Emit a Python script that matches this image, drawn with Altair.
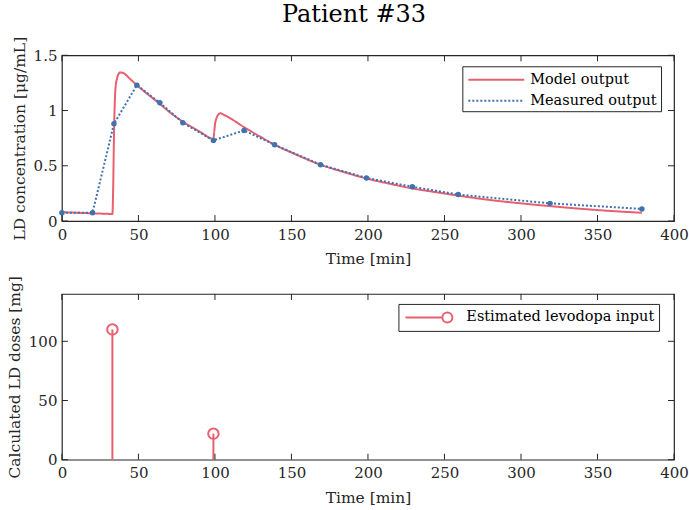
import altair as alt
import pandas as pd

# ---------------- data ----------------
model_t = [0, 10, 20, 30, 33, 33.5, 34, 34.5, 35, 36, 37, 38, 40, 45, 49, 55, 64, 70, 79, 90, 99,
           99.5, 100, 101, 102, 103.5, 106, 110, 119, 130, 139, 150, 169, 185, 199, 215, 229, 245,
           259, 280, 300, 319, 340, 360, 379]
model_v = [0.08, 0.075, 0.07, 0.065, 0.063, 0.3, 0.75, 1.05, 1.2, 1.29, 1.33, 1.345, 1.34, 1.28,
           1.23, 1.16, 1.06, 0.99, 0.90, 0.81, 0.745,
           0.80, 0.87, 0.93, 0.96, 0.975, 0.96, 0.93, 0.85, 0.76, 0.69, 0.62, 0.51, 0.44, 0.385,
           0.335, 0.295, 0.26, 0.23, 0.19, 0.16, 0.135, 0.11, 0.09, 0.075]
meas_t = [0, 20, 34, 49, 64, 79, 99, 119, 139, 169, 199, 229, 259, 319, 379]
meas_v = [0.075, 0.075, 0.88, 1.23, 1.07, 0.89, 0.73, 0.82, 0.69, 0.51, 0.39, 0.31, 0.24, 0.16, 0.11]
dose_t = [33, 99]
dose_v = [110, 22]
series_names = ["Model output", "Measured output"]
dose_name = "Estimated levodopa input"
x_ticks = [0, 50, 100, 150, 200, 250, 300, 350, 400]
y1_ticks = [0, 0.5, 1, 1.5]
y2_ticks = [0, 50, 100]

# ---------------- style ----------------
RED = "#E8606F"
BLUE = "#3F72AF"
AX = "#262626"
FONT = "DejaVu Serif"
W, H = 613, 166
TL = 6

model_df = pd.DataFrame({"t": model_t, "v": model_v, "s": series_names[0]})
meas_df = pd.DataFrame({"t": meas_t, "v": meas_v, "s": series_names[1]})
dose_df = pd.DataFrame({"t": dose_t, "v": dose_v, "s": dose_name})
xt_df = pd.DataFrame({"k": x_ticks})
y1t_df = pd.DataFrame({"k": y1_ticks})
y2t_df = pd.DataFrame({"k": y2_ticks})

xscale = alt.Scale(domain=[0, 400], nice=False, zero=False)
y1scale = alt.Scale(domain=[0, 1.5], nice=False)
y2scale = alt.Scale(domain=[0, 140], nice=False)

xaxis = alt.Axis(values=x_ticks, title="Time [min]", ticks=False, domain=False, grid=False,
                 labelPadding=6, titlePadding=10, format="~r", labelFlush=False)


def yaxis(title, vals):
    return alt.Axis(values=vals, title=title, ticks=False, domain=False, grid=False,
                    labelPadding=5, titlePadding=6, format="~r", labelFlush=False)


def inner_ticks(yscale, ytdf, ytitle, yvals):
    xa = xaxis
    ya = yaxis(ytitle, yvals)
    xb = alt.Chart(xt_df).mark_rule(color=AX, strokeWidth=1).encode(
        x=alt.X("k:Q", scale=xscale, axis=xa), y=alt.value(H), y2=alt.value(H - TL))
    xt = alt.Chart(xt_df).mark_rule(color=AX, strokeWidth=1).encode(
        x=alt.X("k:Q", scale=xscale, axis=xa), y=alt.value(0), y2=alt.value(TL))
    yl = alt.Chart(ytdf).mark_rule(color=AX, strokeWidth=1).encode(
        y=alt.Y("k:Q", scale=yscale, axis=ya), x=alt.value(0), x2=alt.value(TL))
    yr = alt.Chart(ytdf).mark_rule(color=AX, strokeWidth=1).encode(
        y=alt.Y("k:Q", scale=yscale, axis=ya), x=alt.value(W), x2=alt.value(W - TL))
    return [xb, xt, yl, yr]


Y1T = "LD concentration [μg/mL]"
Y2T = "Calculated LD doses [mg]"

# top legend symbol (custom path, scaled by sqrt(size)/2 = 8.5)
p_line = "M-0.88,0H5.71"
top_legend = alt.Legend(
    title=None, orient="none", legendX=401, legendY=11, symbolType=p_line,
    symbolSize=289, symbolStrokeWidth=2, labelOffset=45, padding=4, rowPadding=5, labelLimit=300,
)

sc_color = alt.Scale(domain=series_names, range=[RED, BLUE])
sc_dash = alt.Scale(domain=series_names, range=[[1, 0], [2, 2]])

model_line = alt.Chart(model_df).mark_line(strokeWidth=2, interpolate="monotone").encode(
    x=alt.X("t:Q", scale=xscale, axis=xaxis),
    y=alt.Y("v:Q", scale=y1scale, axis=yaxis(Y1T, y1_ticks)),
    color=alt.Color("s:N", scale=sc_color, legend=top_legend),
    strokeDash=alt.StrokeDash("s:N", scale=sc_dash, legend=top_legend),
)
meas_line = alt.Chart(meas_df).mark_line(strokeWidth=2).encode(
    x=alt.X("t:Q", scale=xscale, axis=xaxis),
    y=alt.Y("v:Q", scale=y1scale, axis=yaxis(Y1T, y1_ticks)),
    color=alt.Color("s:N", scale=sc_color, legend=top_legend),
    strokeDash=alt.StrokeDash("s:N", scale=sc_dash, legend=top_legend),
)
meas_pts = alt.Chart(meas_df).mark_circle(size=30, opacity=1, color=BLUE).encode(
    x=alt.X("t:Q", scale=xscale, axis=xaxis),
    y=alt.Y("v:Q", scale=y1scale, axis=yaxis(Y1T, y1_ticks)),
)

top = alt.layer(model_line, meas_line, meas_pts,
                *inner_ticks(y1scale, y1t_df, Y1T, y1_ticks)).properties(width=W, height=H)

# bottom legend symbol: line with circle at its right end (scale 8.5)
p_stem = "M-0.76,0H3.59M4.77,0A0.59,0.59,0,1,1,3.59,0A0.59,0.59,0,1,1,4.77,0"
bot_legend = alt.Legend(
    title=None, orient="none", legendX=337, legendY=10,
    symbolType=p_stem, symbolSize=289, symbolStrokeWidth=2, symbolFillColor="transparent",
    symbolOpacity=1, labelOffset=45, padding=4, labelLimit=300,
)

stems = alt.Chart(dose_df).mark_rule(strokeWidth=2, color=RED).encode(
    x=alt.X("t:Q", scale=xscale, axis=xaxis),
    y=alt.Y("v:Q", scale=y2scale, axis=yaxis(Y2T, y2_ticks)),
    y2=alt.datum(0),
)
heads = alt.Chart(dose_df).mark_point(shape="circle", filled=False, size=110, strokeWidth=2,
                                      opacity=1).encode(
    x=alt.X("t:Q", scale=xscale, axis=xaxis),
    y=alt.Y("v:Q", scale=y2scale, axis=yaxis(Y2T, y2_ticks)),
    color=alt.Color("s:N", scale=alt.Scale(domain=[dose_name], range=[RED]), legend=bot_legend),
)
bottom = alt.layer(stems, heads,
                   *inner_ticks(y2scale, y2t_df, Y2T, y2_ticks)).properties(width=W, height=H)

chart = alt.vconcat(top, bottom, spacing=73, bounds="flush").properties(
    title=alt.TitleParams("Patient #33", font=FONT, fontSize=24, fontWeight="normal", color="black",
                          anchor="middle", dx=-14, offset=9, frame="group"),
    padding={"left": 6, "top": 2, "right": 0, "bottom": 0},
).resolve_scale(color="independent", strokeDash="independent").configure_view(
    stroke=AX, strokeWidth=1.2
).configure_axis(
    labelFont=FONT, labelFontSize=15, labelColor=AX, titleFont=FONT, titleFontSize=15.5,
    titleFontWeight="normal", titleColor=AX
).configure_legend(
    labelFont=FONT, labelFontSize=14.5, labelColor="black", strokeColor=AX, fillColor="white",
    cornerRadius=0, strokeWidth=1
)

chart.save("out.html", embed_options={"renderer": "svg", "actions": False})
